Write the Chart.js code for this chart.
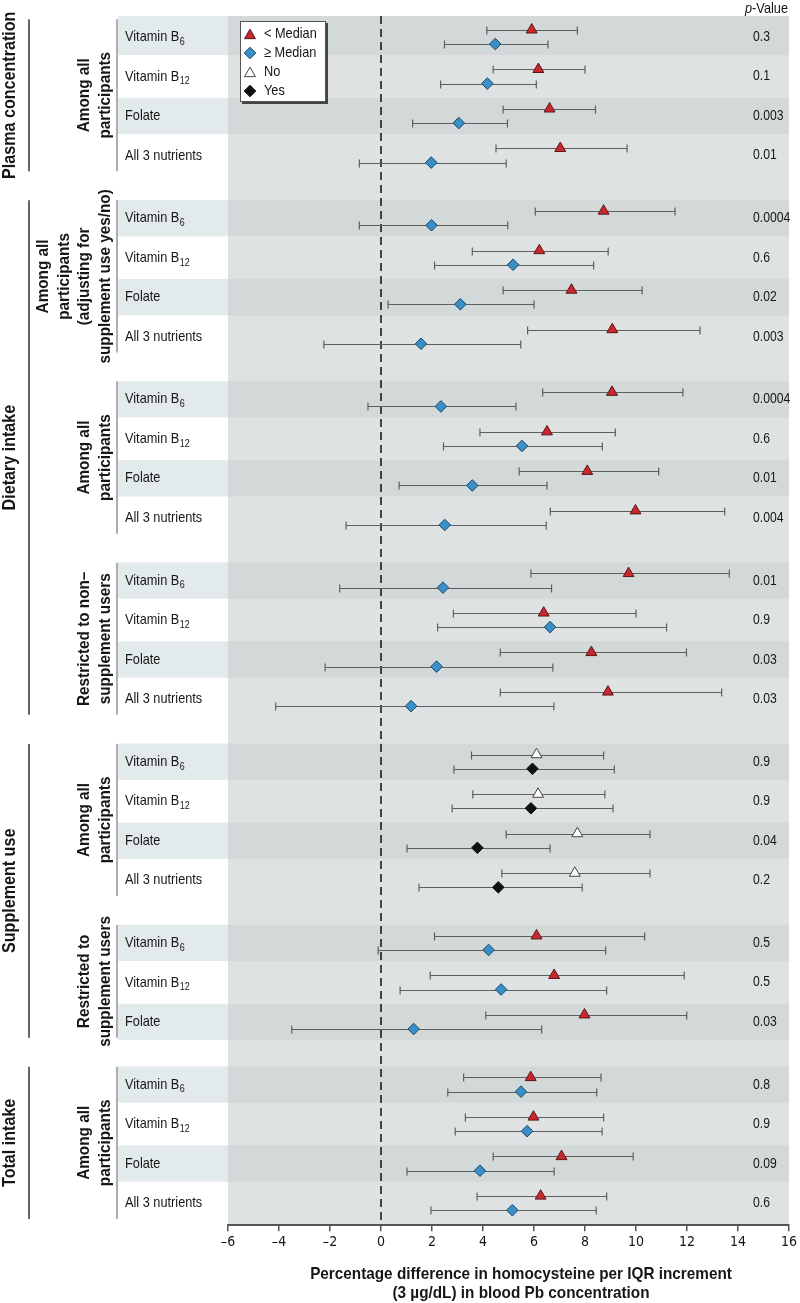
<!DOCTYPE html>
<html>
<head>
<meta charset="utf-8">
<script src="https://cdn.jsdelivr.net/npm/chart.js@4.4.1/dist/chart.umd.min.js"></script>
<style>
  html, body { margin: 0; padding: 0; background: #fff; }
  #forest { display: block; }
</style>
</head>
<body>
<canvas id="forest" width="800" height="1303"></canvas>
<script>
const SANS = '"Liberation Sans", Arial, sans-serif';
const TICK_FONT = '"Liberation Sans Narrow", "DejaVu Sans Condensed", sans-serif';

const sections = ["Plasma concentration", "Dietary intake", "Supplement use", "Total intake"];

const subgroups = [
  ["Among all", "participants"],
  ["Among all", "participants", "(adjusting for", "supplement use yes/no)"],
  ["Among all", "participants"],
  ["Restricted to non\u2013", "supplement users"],
  ["Among all", "participants"],
  ["Restricted to", "supplement users"],
  ["Among all", "participants"],
];
const subgroupSection = [0, 1, 1, 1, 2, 2, 3];
// which legend pair a subgroup uses: median split or supplement use
const subgroupMarkers = ["median", "median", "median", "median", "use", "median", "median"];

const nutrients = [["Vitamin B", "6"], ["Vitamin B", "12"], ["Folate", ""], ["All 3 nutrients", ""]];

const rowSubgroup = [0,0,0,0, 1,1,1,1, 2,2,2,2, 3,3,3,3, 4,4,4,4, 5,5,5, 6,6,6,6];
const rowNutrient = [0,1,2,3, 0,1,2,3, 0,1,2,3, 0,1,2,3, 0,1,2,3, 0,1,2, 0,1,2,3];

// upper marker of each row: "< Median" (or "No")
const upperEst  = [5.91, 6.17, 6.61, 7.03,  8.73, 6.21, 7.47, 9.07,  9.06, 6.51, 8.09, 9.98,  9.71, 6.38, 8.25, 8.90,  6.10, 6.16, 7.70, 7.60,  6.10, 6.79, 7.98,  5.87, 5.98, 7.08, 6.26];
const upperLow  = [4.15, 4.40, 4.79, 4.51,  6.05, 3.58, 4.79, 5.75,  6.34, 3.88, 5.42, 6.64,  5.88, 2.84, 4.68, 4.68,  3.55, 3.60, 4.91, 4.74,  2.10, 1.93, 4.11,  3.24, 3.31, 4.40, 3.77];
const upperHigh = [7.70, 8.00, 8.41, 9.65,  11.53, 8.91, 10.24, 12.51,  11.84, 9.19, 10.89, 13.48,  13.66, 10.00, 11.98, 13.36,  8.73, 8.78, 10.55, 10.55,  10.34, 11.89, 11.99,  8.63, 8.73, 9.89, 8.85];
// lower marker of each row: "≥ Median" (or "Yes")
const lowerEst  = [4.48, 4.17, 3.05, 1.97,  1.98, 5.18, 3.11, 1.57,  2.35, 5.53, 3.58, 2.50,  2.43, 6.63, 2.18, 1.18,  5.94, 5.88, 3.78, 4.60,  4.22, 4.71, 1.28,  5.49, 5.73, 3.88, 5.15];
const lowerLow  = [2.49, 2.34, 1.24, -0.85,  -0.85, 2.10, 0.28, -2.24,  -0.51, 2.45, 0.71, -1.37,  -1.62, 2.22, -2.19, -4.13,  2.86, 2.79, 1.02, 1.49,  -0.11, 0.75, -3.50,  2.62, 2.91, 1.02, 1.96];
const lowerHigh = [6.55, 6.09, 4.96, 4.91,  4.97, 8.34, 6.00, 5.48,  5.29, 8.68, 6.51, 6.48,  6.69, 11.20, 6.74, 6.78,  9.15, 9.10, 6.63, 7.89,  8.81, 8.85, 6.30,  8.46, 8.67, 6.79, 8.44];

const pValues = ["0.3", "0.1", "0.003", "0.01",  "0.0004", "0.6", "0.02", "0.003",  "0.0004", "0.6", "0.01", "0.004",
                 "0.01", "0.9", "0.03", "0.03",  "0.9", "0.9", "0.04", "0.2",  "0.5", "0.5", "0.03",  "0.8", "0.9", "0.09", "0.6"];

const xTicks = [-6, -4, -2, 0, 2, 4, 6, 8, 10, 12, 14, 16];
const xTitle = ["Percentage difference in homocysteine per IQR increment", "(3 \u00b5g/dL) in blood Pb concentration"];

// layout, in row units
const GROUP_GAP = 0.586;
const PAIR_OFFSET = 0.18;
const BAND_HALF = 0.46;
const rowY = rowSubgroup.map((g, i) => i + g * GROUP_GAP);

function points(est, low, high, kind, dy) {
  const out = [];
  est.forEach((v, i) => {
    if (subgroupMarkers[rowSubgroup[i]] !== kind) return;
    out.push({ x: v, y: rowY[i] + dy, low: low[i], high: high[i] });
  });
  return out;
}

const PLOT_BG = "#dfe2e3";
const PLOT_BAND = "#d3d8d9";
const LABEL_BAND = "#e3eaec";
const TEXT = "#161616";

// text squeezed horizontally to look like the condensed face of the original
function label(ctx, text, x, y, size, squeeze, opts = {}) {
  ctx.save();
  ctx.translate(x, y);
  if (opts.rotate) ctx.rotate(opts.rotate);
  ctx.scale(squeeze, 1);
  ctx.font = (opts.style || "") + " " + size + "px " + SANS;
  ctx.textAlign = opts.align || "left";
  ctx.textBaseline = "middle";
  ctx.fillText(text, 0, 0);
  const w = ctx.measureText(text).width * squeeze;
  ctx.restore();
  return w;
}

function subgroupSpan(g) {
  const idx = rowSubgroup.map((s, i) => s === g ? i : -1).filter(i => i >= 0);
  return [rowY[idx[0]] - 0.45, rowY[idx[idx.length - 1]] + 0.4];
}

const forestDecor = {
  id: "forestDecor",
  beforeDraw(chart) {
    const { ctx, chartArea: a, scales: { y } } = chart;
    ctx.save();
    ctx.fillStyle = "#fff";
    ctx.fillRect(0, 0, chart.width, chart.height);
    ctx.fillStyle = PLOT_BG;
    ctx.fillRect(a.left, a.top, a.right - a.left, a.bottom - a.top);
    rowY.forEach((v, i) => {
      if (rowNutrient[i] % 2 === 1) return;
      let t = y.getPixelForValue(v - BAND_HALF);
      const b = y.getPixelForValue(v + BAND_HALF);
      if (t - a.top < 5) t = a.top;
      ctx.fillStyle = LABEL_BAND;
      ctx.fillRect(118, t, a.left - 118, b - t);
      ctx.fillStyle = PLOT_BAND;
      ctx.fillRect(a.left, t, a.right - a.left, b - t);
    });
    ctx.restore();
  },
  beforeDatasetsDraw(chart) {
    const { ctx, chartArea: a, scales: { x, y } } = chart;
    ctx.save();
    // reference line at zero
    ctx.strokeStyle = "#111";
    ctx.lineWidth = 1.5;
    ctx.setLineDash([8, 5]);
    ctx.beginPath();
    ctx.moveTo(x.getPixelForValue(0), a.top);
    ctx.lineTo(x.getPixelForValue(0), a.bottom);
    ctx.stroke();
    ctx.setLineDash([]);
    // confidence intervals
    ctx.strokeStyle = "#5f5f5f";
    ctx.lineWidth = 1.2;
    chart.data.datasets.forEach(ds => {
      ds.data.forEach(p => {
        const py = Math.round(y.getPixelForValue(p.y)) + 0.5;
        const x1 = x.getPixelForValue(p.low);
        const x2 = x.getPixelForValue(p.high);
        ctx.beginPath();
        ctx.moveTo(x1, py); ctx.lineTo(x2, py);
        ctx.moveTo(x1, py - 4); ctx.lineTo(x1, py + 4);
        ctx.moveTo(x2, py - 4); ctx.lineTo(x2, py + 4);
        ctx.stroke();
      });
    });
    ctx.restore();
  },
  afterDraw(chart) {
    const { ctx, scales: { y } } = chart;
    ctx.save();
    ctx.fillStyle = TEXT;

    // row labels and p-values
    rowY.forEach((v, i) => {
      const py = y.getPixelForValue(v);
      const [main, sub] = nutrients[rowNutrient[i]];
      const w = label(ctx, main, 125, py, 15, 0.85);
      if (sub) label(ctx, sub, 125 + w + 0.5, py + 5, 10.5, 0.85);
      label(ctx, pValues[i], 753, py, 14.5, 0.84);
    });

    // p-Value header
    const wr = label(ctx, "-Value", 788, 9, 15, 0.85, { align: "right" });
    label(ctx, "p", 788 - wr, 9, 15, 0.85, { align: "right", style: "italic" });

    // subgroup brackets and labels
    subgroups.forEach((lines, g) => {
      const [v0, v1] = subgroupSpan(g);
      const t = y.getPixelForValue(v0), b = y.getPixelForValue(v1);
      ctx.strokeStyle = "#777";
      ctx.lineWidth = 1.2;
      ctx.beginPath();
      ctx.moveTo(117, t); ctx.lineTo(117, b);
      ctx.stroke();
      lines.forEach((ln, k) => {
        const lx = 105 - (lines.length - 1 - k) * 20.5;
        label(ctx, ln, lx, (t + b) / 2, 17, 0.9, { rotate: -Math.PI / 2, align: "center", style: "bold" });
      });
    });

    // section brackets and labels
    sections.forEach((name, s) => {
      const gs = subgroupSection.map((v, g) => v === s ? g : -1).filter(g => g >= 0);
      const t = y.getPixelForValue(subgroupSpan(gs[0])[0]);
      const b = y.getPixelForValue(subgroupSpan(gs[gs.length - 1])[1]);
      ctx.strokeStyle = "#333";
      ctx.lineWidth = 1.5;
      ctx.beginPath();
      ctx.moveTo(29, t); ctx.lineTo(29, b);
      ctx.stroke();
      label(ctx, name, 10, (t + b) / 2, 17.5, 0.92, { rotate: -Math.PI / 2, align: "center", style: "bold" });
    });

    // axis title
    xTitle.forEach((ln, k) => {
      label(ctx, ln, 521, 1274 + k * 19, 17, 0.9, { align: "center", style: "bold" });
    });

    // legend box
    const lx = 240, ly = 21, lw = 86, lh = 81;
    ctx.fillStyle = "#444";
    ctx.fillRect(lx + 2, ly + 2, lw, lh);
    ctx.fillStyle = "#fff";
    ctx.fillRect(lx, ly, lw, lh);
    ctx.strokeStyle = "#555";
    ctx.lineWidth = 1;
    ctx.strokeRect(lx + 0.5, ly + 0.5, lw - 1, lh - 1);
    chart.data.datasets.forEach((ds, i) => {
      const cy = ly + 13 + i * 19;
      ctx.fillStyle = ds.backgroundColor;
      ctx.strokeStyle = ds.borderColor;
      ctx.lineWidth = 1;
      Chart.helpers.drawPoint(ctx, { pointStyle: ds.pointStyle, radius: ds.pointRadius, rotation: 0, borderWidth: 1 },
        250, cy + (ds.pointStyle === "triangle" ? 1.5 : 0));
      ctx.fillStyle = TEXT;
      label(ctx, ds.label, 264, cy, 15, 0.85);
    });
    ctx.restore();
  }
};

const canvas = document.getElementById("forest");
new Chart(canvas.getContext("2d"), {
  type: "scatter",
  data: {
    datasets: [
      {
        label: "< Median",
        data: points(upperEst, upperLow, upperHigh, "median", -PAIR_OFFSET),
        pointStyle: "triangle", pointRadius: 6.3,
        backgroundColor: "#c8282e", borderColor: "#5a1616", borderWidth: 1,
      },
      {
        label: "\u2265 Median",
        data: points(lowerEst, lowerLow, lowerHigh, "median", PAIR_OFFSET),
        pointStyle: "rectRot", pointRadius: 5.8,
        backgroundColor: "#3a8fc6", borderColor: "#1b4a68", borderWidth: 1,
      },
      {
        label: "No",
        data: points(upperEst, upperLow, upperHigh, "use", -PAIR_OFFSET),
        pointStyle: "triangle", pointRadius: 6.3,
        backgroundColor: "#ffffff", borderColor: "#444", borderWidth: 1,
      },
      {
        label: "Yes",
        data: points(lowerEst, lowerLow, lowerHigh, "use", PAIR_OFFSET),
        pointStyle: "rectRot", pointRadius: 5.8,
        backgroundColor: "#111111", borderColor: "#111111", borderWidth: 1,
      },
    ],
  },
  options: {
    responsive: false,
    animation: false,
    devicePixelRatio: 1,
    layout: { padding: { left: 228, right: 8, top: 16, bottom: 49 } },
    plugins: { legend: { display: false }, tooltip: { enabled: false } },
    scales: {
      x: {
        type: "linear",
        min: -6,
        max: 16,
        afterBuildTicks: s => { s.ticks = xTicks.map(v => ({ value: v })); },
        ticks: {
          color: TEXT,
          font: { family: TICK_FONT, size: 14 },
          padding: 3,
          callback: v => v < 0 ? "\u2013" + Math.abs(v) : String(v),
        },
        grid: { drawOnChartArea: false, drawTicks: true, tickLength: 6, color: "#555", lineWidth: 1.5 },
        border: { display: true, color: "#555", width: 2 },
        title: { display: false },
      },
      y: {
        type: "linear",
        display: false,
        reverse: true,
        min: -21 / 39.6,
        max: (1228 - 37) / 39.6,
      },
    },
  },
  plugins: [forestDecor],
});
</script>
</body>
</html>
